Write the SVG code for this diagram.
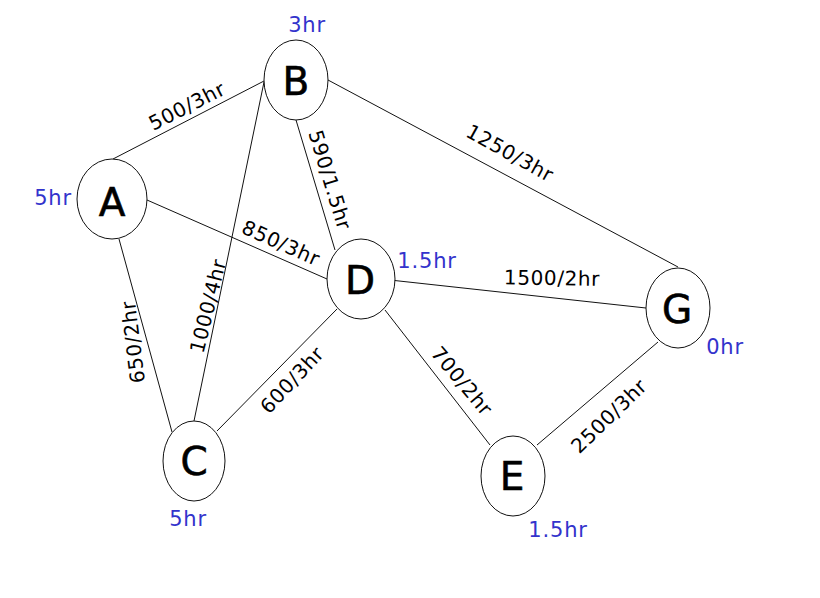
<svg xmlns="http://www.w3.org/2000/svg" width="820" height="598" viewBox="0 0 820 598">
<style>
.edge{stroke:#111;stroke-width:1;fill:none}
.node{fill:#fff;stroke:#111;stroke-width:1}
.nl{font-family:"DejaVu Sans",sans-serif;font-size:39px;fill:#000;stroke:#000;stroke-width:0.6;text-anchor:middle;dominant-baseline:central}
.el{font-family:"DejaVu Sans",sans-serif;font-size:20px;letter-spacing:0.6px;fill:#000;text-anchor:middle;dominant-baseline:central}
.h{font-family:"DejaVu Sans",sans-serif;font-size:21px;letter-spacing:0.8px;fill:#3333cc;text-anchor:middle;dominant-baseline:central}
</style>
<rect width="820" height="598" fill="#fff"/>
<g id="connectors">
<line class="edge" x1="113" y1="159" x2="264" y2="81"/>
<line class="edge" x1="328" y1="80" x2="678" y2="267"/>
<line class="edge" x1="296" y1="120" x2="335" y2="250"/>
<line class="edge" x1="264" y1="82" x2="194" y2="421"/>
<line class="edge" x1="147" y1="200" x2="327" y2="279"/>
<line class="edge" x1="119" y1="239" x2="172" y2="432"/>
<line class="edge" x1="217" y1="431" x2="337" y2="309"/>
<line class="edge" x1="390" y1="280" x2="646" y2="308"/>
<line class="edge" x1="385" y1="310" x2="490" y2="445"/>
<line class="edge" x1="537" y1="445" x2="658" y2="342"/>
<text class="el" transform="translate(187,106) rotate(-27)">500/3hr</text>
<text class="el" transform="translate(330,180) rotate(73)">590/1.5hr</text>
<text class="el" transform="translate(510,153) rotate(29)">1250/3hr</text>
<text class="el" transform="translate(281,243) rotate(24)">850/3hr</text>
<text class="el" transform="translate(208,306) rotate(-76)">1000/4hr</text>
<text class="el" transform="translate(133,342) rotate(-97)">650/2hr</text>
<text class="el" transform="translate(292,380) rotate(-47)">600/3hr</text>
<text class="el" transform="translate(552,278) rotate(1)">1500/2hr</text>
<text class="el" transform="translate(462,381) rotate(50)">700/2hr</text>
<text class="el" transform="translate(609,416) rotate(-44)">2500/3hr</text>
</g>
<g id="node-B"><ellipse class="node" cx="296" cy="80" rx="32" ry="40"/><text class="nl" x="296" y="81">B</text><text class="h" x="307" y="25">3hr</text></g>
<g id="node-A"><ellipse class="node" cx="112" cy="199" rx="35" ry="40"/><text class="nl" x="112" y="202">A</text><text class="h" x="53" y="198">5hr</text></g>
<g id="node-C"><ellipse class="node" cx="194" cy="461" rx="31" ry="40"/><text class="nl" x="194" y="461">C</text><text class="h" x="188" y="519">5hr</text></g>
<g id="node-D"><ellipse class="node" cx="361" cy="279" rx="34" ry="40"/><text class="nl" x="360" y="280">D</text><text class="h" x="427" y="261">1.5hr</text></g>
<g id="node-G"><ellipse class="node" cx="678" cy="308" rx="32" ry="40"/><text class="nl" x="677" y="309">G</text><text class="h" x="725" y="347">0hr</text></g>
<g id="node-E"><ellipse class="node" cx="513" cy="476" rx="32" ry="40"/><text class="nl" x="512" y="476">E</text><text class="h" x="558" y="530">1.5hr</text></g>
</svg>
